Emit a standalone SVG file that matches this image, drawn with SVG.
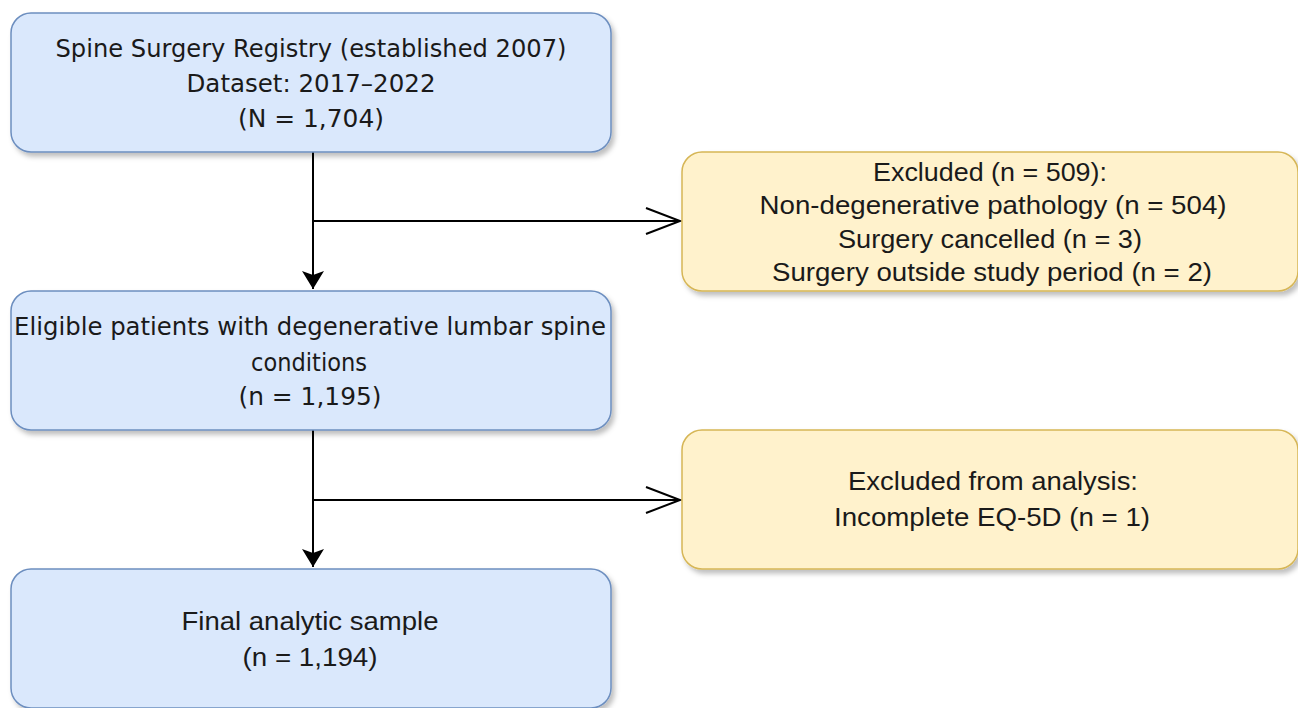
<svg xmlns="http://www.w3.org/2000/svg" width="1298" height="708" viewBox="0 0 1298 708">
<style>
.blue{fill:#dae8fc;stroke:#6c8ebf;stroke-width:1.5;filter:url(#sh)}
.yel{fill:#fff2cc;stroke:#d6b656;stroke-width:1.5;filter:url(#sh)}
.tt{font-family:"DejaVu Sans",sans-serif;font-size:25px;fill:#1a1a1a;text-anchor:middle}
.ta{font-family:"Liberation Sans",Arial,sans-serif;font-size:26px;fill:#1a1a1a;text-anchor:middle}
.ln{stroke:#000;stroke-width:2;fill:none}
</style>
<defs>
<filter id="sh" x="-5%" y="-10%" width="112%" height="125%">
<feDropShadow dx="3" dy="4" stdDeviation="2.5" flood-color="#000" flood-opacity="0.25"/>
</filter>
<marker id="fa" markerWidth="22" markerHeight="24" refX="18" refY="11" orient="auto" markerUnits="userSpaceOnUse">
<path d="M0,0 L18,11 L0,22 L4,11 Z" fill="#000"/>
</marker>
<marker id="oa" markerWidth="40" markerHeight="34" refX="36" refY="17" orient="auto" markerUnits="userSpaceOnUse">
<path d="M2,4 L36,17 L2,30" fill="none" stroke="#000" stroke-width="2"/>
</marker>
</defs>
<rect width="1298" height="708" fill="#fff"/>
<g id="connectors">
<path class="ln" d="M313,152 L313,289" marker-end="url(#fa)"/>
<path class="ln" d="M313,221 L680,221" marker-end="url(#oa)"/>
<path class="ln" d="M313,430 L313,567" marker-end="url(#fa)"/>
<path class="ln" d="M313,500 L680,500" marker-end="url(#oa)"/>
</g>
<g id="registry">
<rect class="blue" x="11" y="13" width="600" height="139" rx="20"/>
<text class="tt" x="311" y="57" textLength="511" lengthAdjust="spacingAndGlyphs">Spine Surgery Registry (established 2007)</text>
<text class="tt" x="311" y="92" textLength="249" lengthAdjust="spacingAndGlyphs">Dataset: 2017–2022</text>
<text class="tt" x="311" y="127" textLength="146" lengthAdjust="spacingAndGlyphs">(N = 1,704)</text>
</g>
<g id="excluded1">
<rect class="yel" x="682" y="152" width="616" height="139" rx="20"/>
<text class="ta" x="990" y="181" textLength="234" lengthAdjust="spacingAndGlyphs">Excluded (n = 509):</text>
<text class="ta" x="993" y="214" textLength="467" lengthAdjust="spacingAndGlyphs">Non-degenerative pathology (n = 504)</text>
<text class="ta" x="990" y="248" textLength="304" lengthAdjust="spacingAndGlyphs">Surgery cancelled (n = 3)</text>
<text class="ta" x="992" y="281" textLength="440" lengthAdjust="spacingAndGlyphs">Surgery outside study period (n = 2)</text>
</g>
<g id="eligible">
<rect class="blue" x="11" y="291" width="600" height="139" rx="20"/>
<text class="tt" x="310" y="335" textLength="592" lengthAdjust="spacingAndGlyphs">Eligible patients with degenerative lumbar spine</text>
<text class="tt" x="309" y="371" textLength="116" lengthAdjust="spacingAndGlyphs">conditions</text>
<text class="tt" x="310" y="405" textLength="143" lengthAdjust="spacingAndGlyphs">(n = 1,195)</text>
</g>
<g id="excluded2">
<rect class="yel" x="682" y="430" width="616" height="139" rx="20"/>
<text class="ta" x="993" y="490" textLength="290" lengthAdjust="spacingAndGlyphs">Excluded from analysis:</text>
<text class="ta" x="992" y="526" textLength="316" lengthAdjust="spacingAndGlyphs">Incomplete EQ-5D (n = 1)</text>
</g>
<g id="final">
<rect class="blue" x="11" y="569" width="600" height="139" rx="20"/>
<text class="ta" x="310" y="630" textLength="257" lengthAdjust="spacingAndGlyphs">Final analytic sample</text>
<text class="ta" x="310" y="666" textLength="135" lengthAdjust="spacingAndGlyphs">(n = 1,194)</text>
</g>
</svg>
